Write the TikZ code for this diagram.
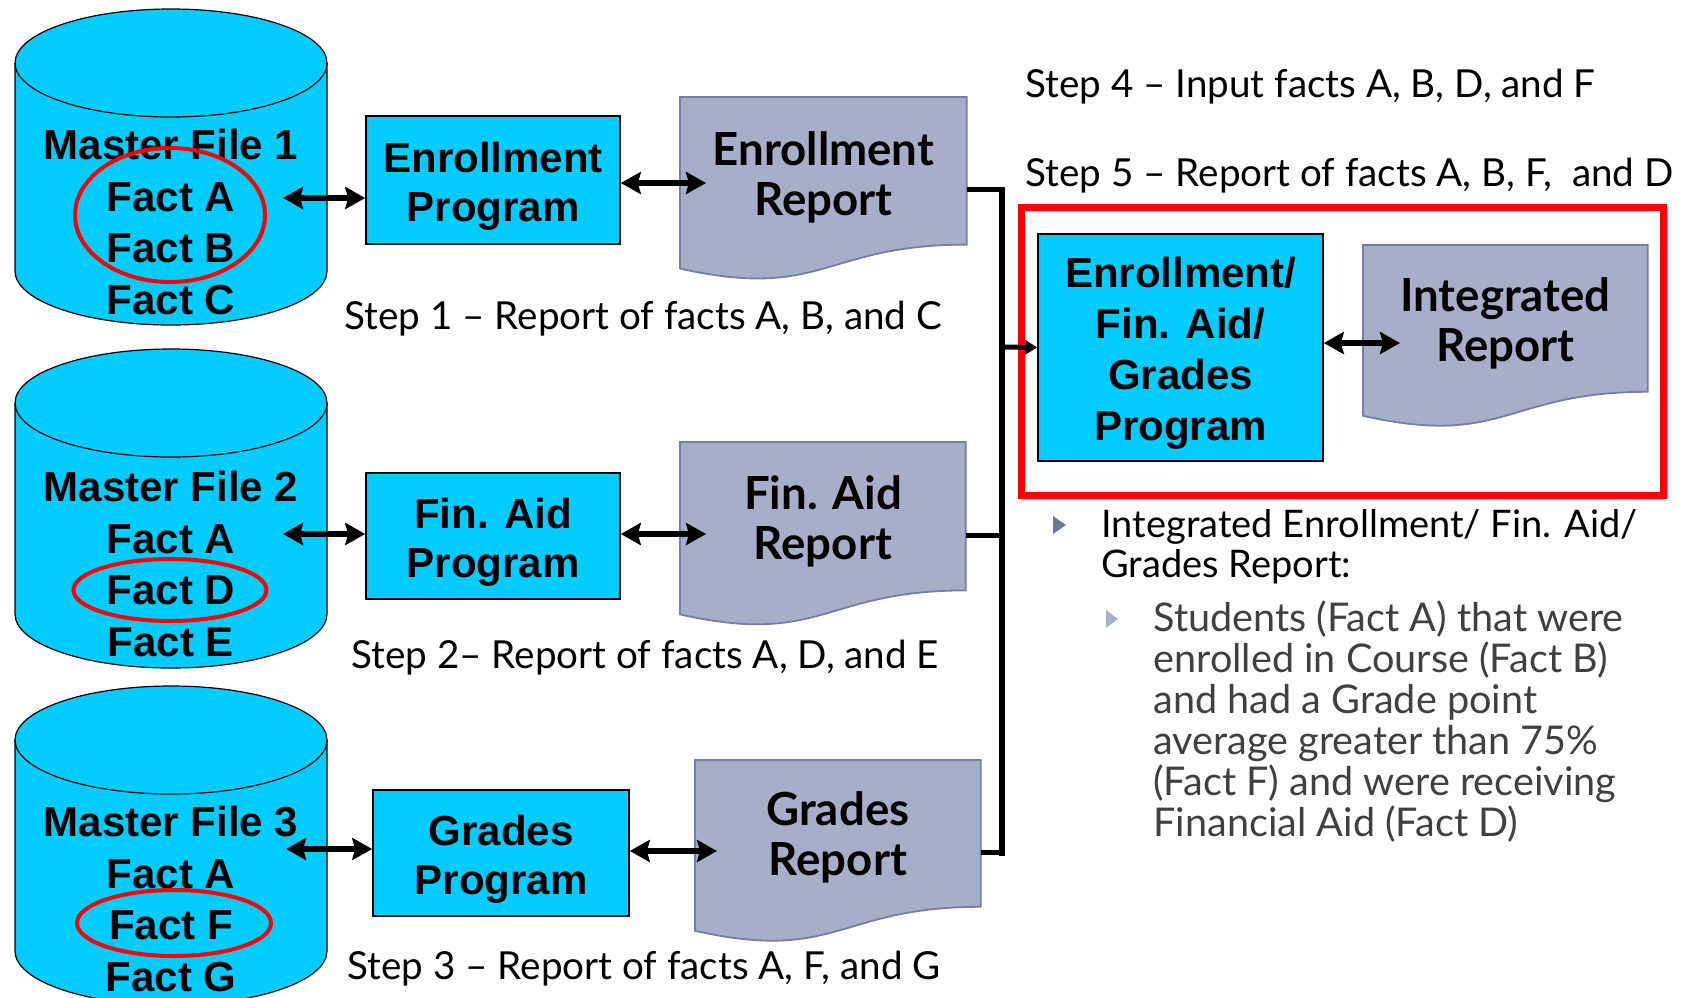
\documentclass[tikz,border=0pt]{standalone}
\usepackage{fontspec}
\setmainfont{Lato}
\newfontfamily\arialfont{Liberation Sans}
\usetikzlibrary{arrows.meta,calc,backgrounds,shapes.geometric}
\definecolor{cyanfill}{RGB}{0,204,255}
\definecolor{docfill}{RGB}{168,173,200}
\definecolor{docline}{RGB}{118,126,163}
\definecolor{bulA}{RGB}{112,118,152}
\definecolor{bulB}{RGB}{165,178,202}
\definecolor{subtext}{RGB}{64,64,64}
\begin{document}
\begin{tikzpicture}[x=0.5pt,y=-0.5pt,
 progbox/.style={draw=black,line width=0.8pt,fill=cyanfill,inner sep=0pt},
 progtext/.style={inner sep=0pt,align=center,font=\arialfont\bfseries\fontsize{21pt}{24.5pt}\selectfont},
 docnode/.style={anchor=north west,inner sep=0pt},
 doctext/.style={inner sep=0pt,align=center,font=\bfseries\fontsize{22.8pt}{25pt}\selectfont},
 docshape/.style={fill=docfill,draw=docline,line width=0.9pt},
 cylshape/.style={fill=cyanfill,draw=black,line width=0.6pt},
 cylline/.style={draw=black,line width=0.6pt},
 cyltext/.style={inner sep=0pt,align=center,font=\arialfont\bfseries\fontsize{21pt}{25.75pt}\selectfont},
 ring/.style={draw=red,line width=2pt,ellipse,inner sep=0pt},
 dbl/.style={line width=2.7pt,{Stealth[length=10pt,width=11pt,inset=1.5pt]}-{Stealth[length=10pt,width=11pt,inset=1.5pt]}},
 connh/.style={line width=2.5pt},
 connv/.style={line width=3pt},
 conna/.style={line width=2.5pt,-{Triangle[length=6pt,width=7pt]}},
 steptext/.style={anchor=west,inner sep=0pt,font=\fontsize{19.3pt}{23pt}\selectfont},
 frame/.style={draw=red,line width=3.5pt,inner sep=0pt},
 bultext/.style={anchor=west,inner sep=0pt,align=left,font=\fontsize{19pt}{20pt}\selectfont},
 subbultext/.style={anchor=west,inner sep=0pt,align=left,text=subtext,font=\fontsize{19.8pt}{20.5pt}\selectfont}
]
\useasboundingbox (0,0) rectangle (1685,997);

% cylinders
\path[cylshape] (15,63) -- (15,271) arc[start angle=180,end angle=360,x radius=78pt,y radius=27pt] -- (327,63) arc[start angle=0,end angle=180,x radius=78pt,y radius=27pt] -- cycle;
\draw[cylline] (15,63) arc[start angle=180,end angle=360,x radius=78pt,y radius=27pt];
\path[cylshape] (15,403) -- (15,614) arc[start angle=180,end angle=360,x radius=78pt,y radius=27pt] -- (327,403) arc[start angle=0,end angle=180,x radius=78pt,y radius=27pt] -- cycle;
\draw[cylline] (15,403) arc[start angle=180,end angle=360,x radius=78pt,y radius=27pt];
\path[cylshape] (15,740) -- (15,951) arc[start angle=180,end angle=360,x radius=78pt,y radius=27pt] -- (327,740) arc[start angle=0,end angle=180,x radius=78pt,y radius=27pt] -- cycle;
\draw[cylline] (15,740) arc[start angle=180,end angle=360,x radius=78pt,y radius=27pt];

\node[cyltext] (mf1) at (171,222) {Master File 1\\Fact A\\Fact B\\Fact C};
\node[cyltext] (mf2) at (171,564) {Master File 2\\Fact A\\Fact D\\Fact E};
\node[cyltext] (mf3) at (171,899) {Master File 3\\Fact A\\Fact F\\Fact G};

\node[ring,minimum width=95pt,minimum height=67pt] (r1) at (170,215) {};
\node[ring,minimum width=96.5pt,minimum height=31pt] (r2) at (170,590) {};
\node[ring,minimum width=97pt,minimum height=33pt] (r3) at (174,923) {};

% programs
\node[progbox,minimum width=127pt,minimum height=64pt] (ep) at (493,180) {};
\node[progtext] (ept) at ($(ep.center)+(0,6)$) {Enrollment\\Program};
\node[progbox,minimum width=127pt,minimum height=63pt] (fap) at (493,536) {};
\node[progtext] (fapt) at ($(fap.center)+(0,6)$) {Fin. Aid\\Program};
\node[progbox,minimum width=128pt,minimum height=63pt] (gp) at (501,853) {};
\node[progtext] (gpt) at ($(gp.center)+(0,6)$) {Grades\\Program};

% reports
\node[docnode,minimum width=143pt,minimum height=73.4pt] (er) at (680,97) {};
\node[docnode,minimum width=142.5pt,minimum height=73.8pt] (far) at (680,442) {};
\node[docnode,minimum width=142.5pt,minimum height=73pt] (gr) at (695,760) {};
\node[docnode,minimum width=142pt,minimum height=73pt] (ir) at (1363,245) {};
\path[docshape] (er.north west) -- (er.north east) -- (er.south east) .. controls (er.south) and ($(er.south)+(0,56)$) .. ($(er.south west)+(0,24)$) -- cycle;
\path[docshape] (far.north west) -- (far.north east) -- (far.south east) .. controls (far.south) and ($(far.south)+(0,56)$) .. ($(far.south west)+(0,24)$) -- cycle;
\path[docshape] (gr.north west) -- (gr.north east) -- (gr.south east) .. controls (gr.south) and ($(gr.south)+(0,56)$) .. ($(gr.south west)+(0,24)$) -- cycle;
\path[docshape] (ir.north west) -- (ir.north east) -- (ir.south east) .. controls (ir.south) and ($(ir.south)+(0,56)$) .. ($(ir.south west)+(0,24)$) -- cycle;
\node[doctext] (ert) at ($(er.center)+(0,7)$) {Enrollment\\Report};
\node[doctext] (fart) at ($(far.center)+(0,5)$) {Fin. Aid\\Report};
\node[doctext] (grt) at ($(gr.center)+(0,4)$) {Grades\\Report};
\node[doctext] (irt) at ($(ir.center)+(0,5)$) {Integrated\\Report};

% integrated program and frame
\node[frame,minimum width=321pt,minimum height=144pt] (frm) at (1342,351) {};
\node[progbox,minimum width=142.5pt,minimum height=113.5pt] (efg) at (1180.5,347.5) {};
\node[progtext,font=\arialfont\bfseries\fontsize{21pt}{25.5pt}\selectfont] (efgt) at ($(efg.center)+(0,6)$) {Enrollment/\\Fin. Aid/\\Grades\\Program};

% double arrows
\coordinate (a1) at (283,198);
\coordinate (a2) at (706,183);
\coordinate (a3) at (283,534);
\coordinate (a4) at (706,534);
\coordinate (a5) at (286,849);
\coordinate (a6) at (717,851);
\coordinate (a7) at (1400,343);
\draw[dbl] (a1) -- (ep.west |- a1);
\draw[dbl] (ep.east |- a2) -- (a2);
\draw[dbl] (a3) -- (fap.west |- a3);
\draw[dbl] (fap.east |- a4) -- (a4);
\draw[dbl] (a5) -- (gp.west |- a5);
\draw[dbl] (gp.east |- a6) -- (a6);
\draw[dbl] (efg.east |- a7) -- (a7);

% connectors to integrated program
\coordinate (bus) at (1002,347);
\coordinate (erp) at ($(er.north east)!0.63!(er.south east)$);
\coordinate (farp) at ($(far.north east)!0.63!(far.south east)$);
\coordinate (grp) at ($(gr.north east)!0.63!(gr.south east)$);
\draw[connh] (erp) -- (erp -| bus);
\draw[connh] (farp) -- (farp -| bus);
\draw[connh] (grp) -- (grp -| bus);
\draw[connv,line cap=rect] (erp -| bus) -- (grp -| bus);
\draw[conna] (bus) -- (efg.west);

% step labels
\node[steptext] (s1) at (344,319) {Step 1 – Report of facts A, B, and C};
\node[steptext] (s2) at (351,658) {Step 2– Report of facts A, D, and E};
\node[steptext] (s3) at (347,969) {Step 3 – Report of facts A, F, and G};
\node[steptext] (s4) at (1025,87) {Step 4 – Input facts A, B, D, and F};
\node[steptext] (s5) at (1025,176) {Step 5 – Report of facts A, B, F, \ and D};

% bullets
\fill[bulA] (1053,516) -- (1066,525) -- (1053,534) -- cycle;
\node[bultext] (t1) at (1101,547) {Integrated Enrollment/ Fin. Aid/\\Grades Report:};
\fill[bulB] (1106,610) -- (1118,619) -- (1106,628) -- cycle;
\node[subbultext] (t2) at (1153,722) {Students (Fact A) that were\\enrolled in Course (Fact B)\\and had a Grade point\\average greater than 75\%\\(Fact F) and were receiving\\Financial Aid (Fact D)};
\end{tikzpicture}
\end{document}
